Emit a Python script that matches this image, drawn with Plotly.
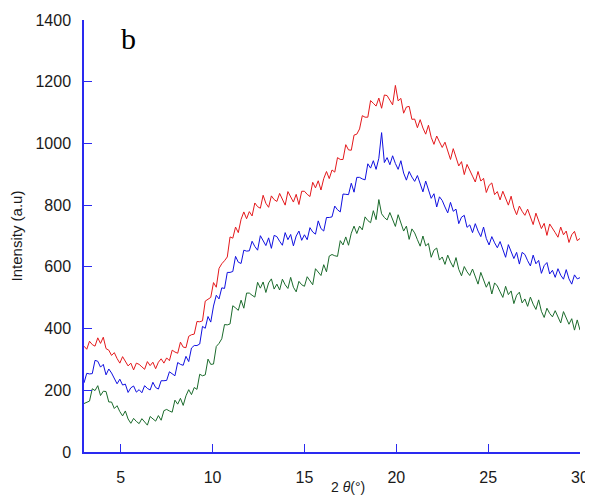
import numpy as np
import plotly.graph_objects as go

# Scan grid: 2θ from 3° to 30° in 0.15° steps
theta_start = 3.0
theta_step = 0.15

red = [
    343, 333, 359, 348, 343, 370, 352, 372, 335, 330,
    313, 322, 303, 288, 309, 294, 279, 288, 266, 288,
    284, 276, 268, 293, 280, 291, 270, 291, 302, 288,
    305, 296, 330, 324, 320, 356, 340, 338, 375, 380,
    382, 423, 422, 425, 489, 495, 501, 549, 534, 595,
    610, 620, 632, 697, 693, 729, 711, 754, 778, 756,
    779, 765, 807, 795, 790, 832, 806, 793, 830, 818,
    812, 838, 817, 800, 844, 827, 810, 835, 802, 845,
    845, 835, 828, 874, 856, 879, 849, 886, 909, 886,
    914, 907, 954, 948, 948, 996, 979, 978, 1027, 1030,
    1047, 1090, 1085, 1085, 1139, 1130, 1121, 1147, 1114, 1157,
    1155, 1140, 1125, 1188, 1138, 1146, 1098, 1118, 1120, 1078,
    1079, 1051, 1077, 1050, 1030, 1059, 1020, 997, 1024, 1005,
    987, 1004, 974, 948, 983, 955, 927, 941, 899, 932,
    915, 894, 875, 909, 878, 887, 841, 864, 872, 834,
    844, 817, 845, 820, 800, 829, 791, 769, 797, 780,
    767, 787, 760, 737, 774, 749, 724, 741, 702, 739,
    727, 711, 696, 729, 704, 716, 679, 704, 715, 685,
    692,
]

blue = [
    224, 255, 253, 254, 297, 294, 275, 284, 250, 269,
    256, 239, 221, 236, 217, 220, 193, 208, 214, 194,
    202, 192, 215, 206, 201, 226, 209, 204, 231, 231,
    232, 260, 252, 247, 290, 284, 281, 310, 293, 337,
    345, 345, 350, 407, 401, 439, 421, 473, 508, 496,
    532, 530, 582, 582, 585, 634, 615, 611, 654, 651,
    652, 683, 666, 654, 701, 685, 669, 694, 660, 702,
    698, 683, 670, 711, 688, 705, 668, 700, 716, 686,
    704, 688, 727, 713, 706, 749, 724, 716, 760, 760,
    762, 797, 785, 778, 836, 835, 834, 871, 842, 890,
    890, 885, 882, 934, 920, 944, 916, 952, 1035, 938,
    954, 931, 960, 935, 916, 944, 904, 881, 909, 891,
    877, 896, 867, 843, 878, 850, 822, 837, 794, 827,
    815, 794, 775, 809, 780, 787, 740, 761, 767, 728,
    736, 711, 740, 716, 698, 729, 692, 671, 698, 678,
    662, 682, 655, 631, 672, 650, 627, 647, 609, 647,
    640, 620, 603, 638, 610, 621, 579, 604, 614, 577,
    589, 566, 594, 573, 560, 591, 561, 544, 574, 561,
    565,
]

green = [
    157, 162, 165, 205, 199, 215, 183, 197, 196, 162,
    162, 141, 150, 131, 117, 133, 107, 93, 109, 99,
    92, 108, 96, 87, 115, 106, 100, 118, 103, 134,
    138, 133, 129, 168, 155, 174, 151, 182, 202, 186,
    209, 203, 252, 247, 250, 301, 284, 285, 342, 352,
    367, 413, 412, 415, 474, 467, 459, 492, 466, 515,
    515, 508, 502, 550, 531, 551, 517, 548, 561, 528,
    544, 525, 560, 542, 530, 566, 534, 519, 553, 542,
    537, 568, 553, 542, 594, 583, 572, 607, 584, 635,
    640, 636, 634, 685, 671, 697, 670, 709, 732, 708,
    732, 720, 762, 750, 743, 782, 753, 818, 772, 760,
    752, 776, 752, 731, 769, 743, 716, 732, 689, 723,
    710, 688, 667, 700, 668, 676, 631, 654, 661, 622,
    632, 608, 638, 616, 599, 630, 592, 571, 601, 584,
    572, 593, 566, 544, 582, 558, 534, 552, 512, 548,
    538, 519, 501, 537, 510, 522, 481, 508, 518, 483,
    496, 472, 502, 479, 462, 493, 456, 436, 466, 449,
    438, 458, 436, 418, 455, 434, 414, 432, 395, 428,
    395,
]

y_ticks = [0, 200, 400, 600, 800, 1000, 1200, 1400]
x_ticks = [5, 10, 15, 20, 25, 30]

series = [("red", red, "#e4191c"), ("blue", blue, "#1010e0"), ("green", green, "#1b6b2c")]

fig = go.Figure()
for name, vals, col in series:
    theta = theta_start + theta_step * np.arange(len(vals))
    fig.add_trace(go.Scatter(x=theta, y=vals, mode="lines", name=name,
                             line=dict(color=col, width=1.0), showlegend=False))

axis_col = "#2a2af0"
font_fam = "Liberation Sans, Arial, sans-serif"

# the page body adds an 8px offset, so the figure is 8px smaller and margins shifted
fig.update_layout(
    width=585, height=489,
    margin=dict(l=76, r=13, t=12, b=45),
    plot_bgcolor="white", paper_bgcolor="white",
    font=dict(family=font_fam, size=16, color="#1a1a1a"),
    xaxis=dict(range=[3, 30], tickvals=x_ticks, ticks="inside", ticklen=8,
               tickcolor=axis_col, showline=True, linecolor=axis_col, linewidth=1.5,
               showgrid=False, zeroline=False, ticklabelstandoff=10,
               tickfont=dict(size=16), automargin=False),
    yaxis=dict(range=[0, 1400], tickvals=y_ticks, ticks="inside", ticklen=8,
               tickcolor=axis_col, showline=True, linecolor=axis_col, linewidth=1.5,
               showgrid=False, zeroline=False, ticklabelstandoff=8,
               tickfont=dict(size=16), automargin=False,
               title=dict(text="Intensity (a.u)", font=dict(size=15), standoff=10)),
    annotations=[
        dict(text="2 <i>θ</i>(°)", xref="paper", yref="paper", x=0.532, y=0,
             yshift=-35, xanchor="center", yanchor="middle", showarrow=False,
             font=dict(size=14, family=font_fam)),
        dict(text="b", x=5.4, y=1340, xref="x", yref="y", showarrow=False,
             xanchor="center", yanchor="middle",
             font=dict(size=30, family="Liberation Serif, Times New Roman, serif", color="black")),
    ],
)

fig.write_html("out.html")
